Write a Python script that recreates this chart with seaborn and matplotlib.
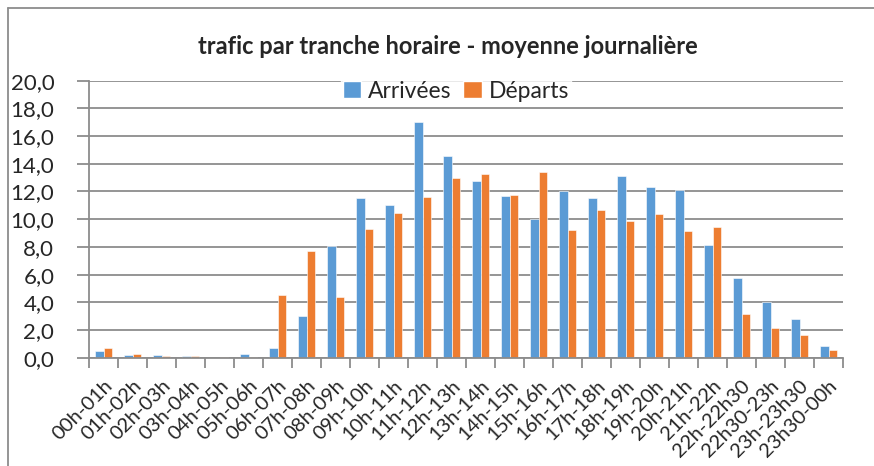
import numpy as np
import pandas as pd
import seaborn as sns
import matplotlib.pyplot as plt
from matplotlib.lines import Line2D
from matplotlib.patches import Patch
from matplotlib.ticker import FixedLocator

# data
tranches = ['00h-01h', '01h-02h', '02h-03h', '03h-04h', '04h-05h', '05h-06h',
            '06h-07h', '07h-08h', '08h-09h', '09h-10h', '10h-11h', '11h-12h',
            '12h-13h', '13h-14h', '14h-15h', '15h-16h', '16h-17h', '17h-18h',
            '18h-19h', '19h-20h', '20h-21h', '21h-22h', '22h-22h30', '22h30-23h',
            '23h-23h30', '23h30-00h']
arrivees = [0.5, 0.2, 0.17, 0.12, 0.0, 0.26, 0.7, 3.0, 8.1, 11.55, 11.02, 17.02,
            14.54, 12.73, 11.67, 9.99, 12.0, 11.55, 13.14, 12.32, 12.1, 8.16,
            5.75, 4.04, 2.77, 0.84]
departs = [0.7, 0.24, 0.12, 0.1, 0.02, 0.05, 4.5, 7.68, 4.38, 9.29, 10.42, 11.62,
           13.0, 13.24, 11.72, 13.38, 9.24, 10.64, 9.89, 10.35, 9.15, 9.43,
           3.13, 2.12, 1.61, 0.55]
series = ['Arrivées', 'Départs']
couleurs = ['#5B9BD5', '#ED7D31']

df = pd.DataFrame({'tranche': tranches * 2,
                   'valeur': arrivees + departs,
                   'serie': [series[0]] * len(tranches) + [series[1]] * len(tranches)})

sns.set_theme(style='white')
plt.rcParams['font.family'] = ['Lato', 'DejaVu Sans']

fig = plt.figure(figsize=(8.74, 4.66), dpi=100)
ax = fig.add_axes([89 / 874, 1 - 357.7 / 466, (843 - 89) / 874, (357.7 - 80.7) / 466])

sns.barplot(data=df, x='tranche', y='valeur', hue='serie', palette=couleurs,
            width=0.6, gap=0, ax=ax, legend=False, edgecolor='white', linewidth=0.4,
            saturation=1)

ax.set_ylim(0, 20)
ax.set_xlim(-0.5, len(tranches) - 0.5)
ax.set_yticks(np.arange(0, 21, 2))
ax.set_yticklabels(['{:.1f}'.format(v).replace('.', ',') for v in np.arange(0, 21, 2)],
                   fontsize=16)
ax.yaxis.grid(True, color='#8c8c8c', linewidth=1.3)
ax.set_axisbelow(True)
ax.set_xlabel('')
ax.set_ylabel('')

ax.set_xticks(range(len(tranches)))
ax.set_xticklabels(tranches, rotation=45, ha='right', rotation_mode='anchor', fontsize=14.5)
ax.xaxis.set_minor_locator(FixedLocator(np.arange(-0.5, len(tranches), 1)))
ax.tick_params(axis='x', which='major', length=0, pad=14)
ax.tick_params(axis='x', which='minor', length=7, color='#8c8c8c', width=1.3, direction='out')
ax.tick_params(axis='y', length=9, color='#8c8c8c', width=1.3, direction='out', pad=16)
ax.xaxis.set_ticks_position('bottom')
ax.yaxis.set_ticks_position('left')

for s in ['top', 'right']:
    ax.spines[s].set_visible(False)
for s in ['left', 'bottom']:
    ax.spines[s].set_color('#8c8c8c')
    ax.spines[s].set_linewidth(1.3)

fig.text(448 / 874, 1 - 46 / 466, 'trafic par tranche horaire - moyenne journalière',
         ha='center', va='center', fontsize=17, fontweight='bold')

handles = [Patch(facecolor=c) for c in couleurs]
leg = ax.legend(handles, series, loc='center', bbox_to_anchor=(456 / 874, 1 - 91 / 466),
                bbox_transform=fig.transFigure, ncol=2, frameon=True, fontsize=16.5,
                handlelength=0.8, handleheight=0.8, handletextpad=0.3, columnspacing=0.5,
                borderpad=0.1, fancybox=False)
leg.get_frame().set_edgecolor('white')
leg.get_frame().set_facecolor('white')

# cadre du graphique
fig.add_artist(Line2D([8 / 874, 8 / 874], [0, 1 - 8 / 466], transform=fig.transFigure,
                      color='#8c8c8c', linewidth=1.3))
fig.add_artist(Line2D([8 / 874, 1], [1 - 8 / 466, 1 - 8 / 466], transform=fig.transFigure,
                      color='#8c8c8c', linewidth=1.3))

fig.savefig('out.png', dpi=100)
